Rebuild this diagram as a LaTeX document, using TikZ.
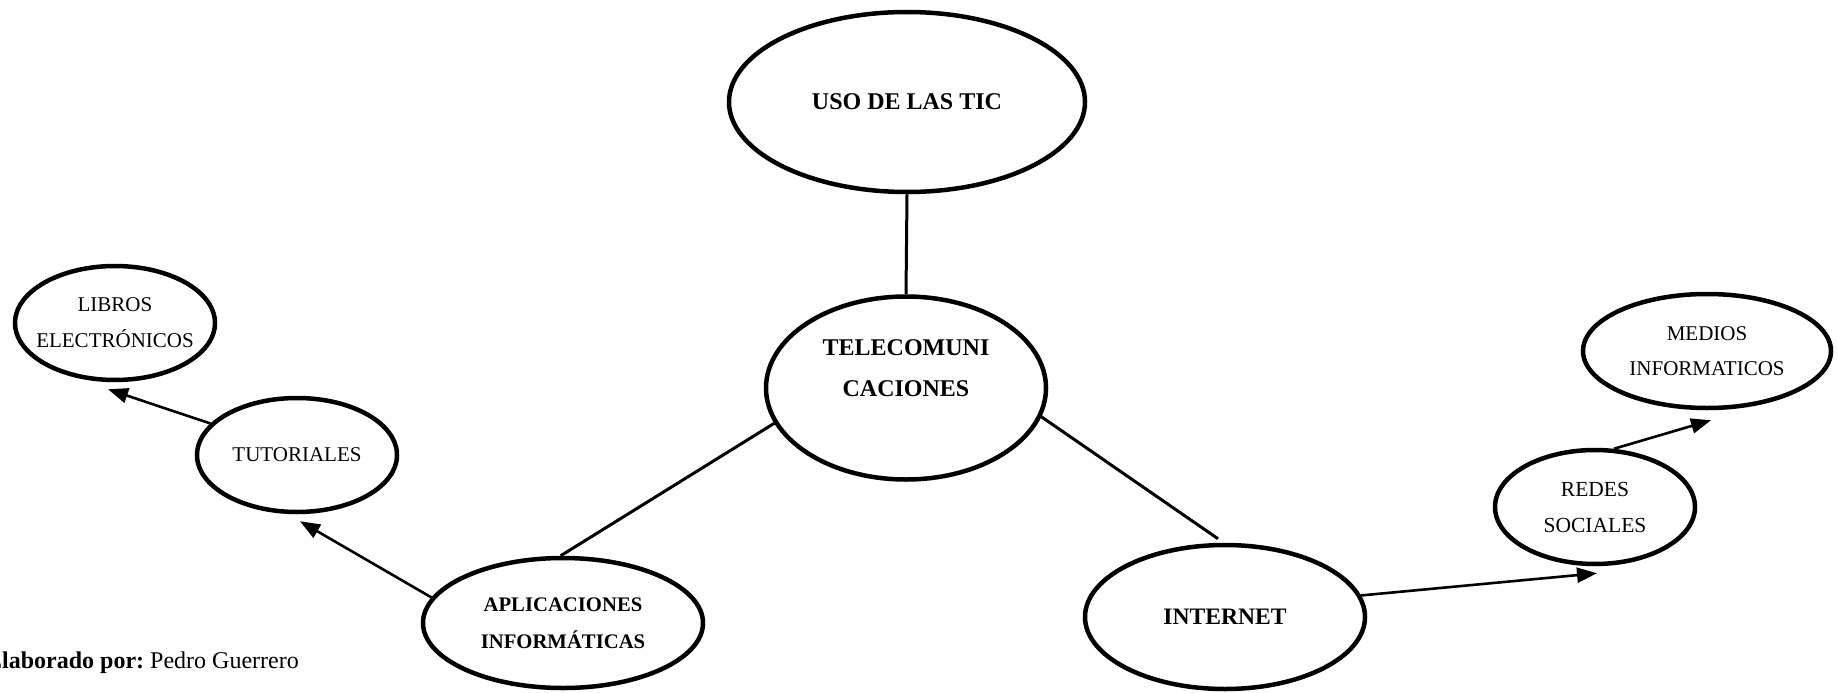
\documentclass[tikz,border=0pt]{standalone}
\usepackage{fontspec}
\setmainfont{Liberation Serif}
\usetikzlibrary{arrows.meta,calc,shapes.geometric}
\begin{document}
\begin{tikzpicture}[x=1pt,y=-1pt,
  bubble/.style={ellipse,draw,line width=4.5pt,inner xsep=-30pt,inner ysep=-4pt,align=center},
  link/.style={line width=3pt},
  arr/.style={line width=2.6pt,-{Triangle[length=20pt,width=15pt]}},
  reg/.style={font=\fontsize{21}{36}\selectfont},
  bld/.style={font=\fontsize{20.7}{37}\selectfont\bfseries}]
\useasboundingbox (0,0) rectangle (1837,693);
% nodes
\node[bubble,minimum width=356pt,minimum height=180pt,font=\fontsize{24}{41}\selectfont\bfseries] (uso) at (907,102) {USO DE LAS TIC};
\node[bubble,minimum width=280pt,minimum height=183pt] (tele) at (906,388) {};
\node[align=center,inner sep=0pt,font=\fontsize{24}{41}\selectfont\bfseries] (teletxt) at (906,368) {TELECOMUNI\\CACIONES};
\node[bubble,bld,minimum width=280pt,minimum height=130pt] (apl) at (563,623) {APLICACIONES\\INFORMÁTICAS};
\node[bubble,font=\fontsize{23.6}{37}\selectfont\bfseries,minimum width=280pt,minimum height=144pt] (inet) at (1225,617) {INTERNET};
\node[bubble,reg,minimum width=200pt,minimum height=114pt] (tut) at (297,455) {TUTORIALES};
\node[bubble,reg,minimum width=200pt,minimum height=114pt] (lib) at (115,323) {LIBROS\\ELECTRÓNICOS};
\node[bubble,font=\fontsize{21.5}{36}\selectfont,minimum width=200pt,minimum height=114pt] (redes) at (1595,507) {REDES\\SOCIALES};
\node[bubble,font=\fontsize{21}{35}\selectfont,minimum width=248pt,minimum height=114pt] (medios) at (1707,351) {MEDIOS\\INFORMATICOS};
\node[anchor=base west,inner sep=0pt,font=\fontsize{24}{27}\selectfont] (credit) at (-14,668) {\textbf{Elaborado por:}\ Pedro Guerrero};
% connectors
\draw[link] (uso.south) -- (tele.north);
\draw[link] (tele.195) -- (apl.92);
\draw[link] (tele.348) -- ($(inet.north)+(-7,-4)$);
\draw[arr] (inet.9) -- ($(redes.south)+(2,7)$);
\draw[arr] (redes.72) -- ($(medios.south)+(4,10)$);
\draw[arr] (tut.160) -- ($(lib.south)+(-7,7)$);
\draw[arr] (apl.169) -- ($(tut.south)+(3,7)$);
\end{tikzpicture}
\end{document}
